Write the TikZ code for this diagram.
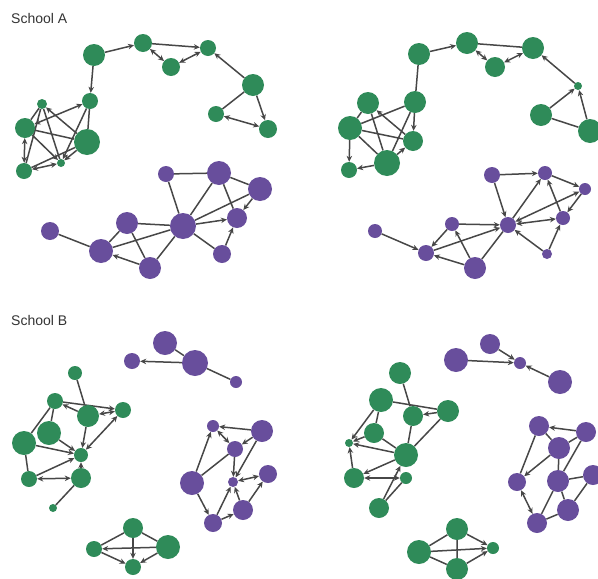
\documentclass[tikz,border=0pt]{standalone}
\usepackage{fontspec}
\setsansfont{Liberation Sans}
\usepackage{tikz}
\usetikzlibrary{arrows.meta,backgrounds}
\definecolor{grn}{RGB}{47,139,89}
\definecolor{prp}{RGB}{104,78,156}

\begin{document}
\begin{tikzpicture}[
    x=1pt, y=-1pt,
    gnode/.style={circle, fill=grn, inner sep=0pt, minimum size=#1},
    pnode/.style={circle, fill=prp, inner sep=0pt, minimum size=#1},
    ttl/.style={anchor=west, inner sep=0pt, font=\sffamily\fontsize{14}{16}\selectfont, text=black!80},
    ln/.style={draw=black!72, line width=1.5pt},
    ar/.style={ln, -{Stealth[length=6pt,width=5.5pt]}},
    br/.style={ln, {Stealth[length=6pt,width=5.5pt]}-{Stealth[length=6pt,width=5.5pt]}}
]
\clip (0,0) rectangle (598,579);

\node[ttl] (schoolA) at (11,18) {School A};
\node[ttl] (schoolB) at (11,320) {School B};

% School A, left
\node[gnode=22pt] (ga1) at (94,55) {};
\node[gnode=18pt] (ga2) at (143,43) {};
\node[gnode=16pt] (ga3) at (208,48) {};
\node[gnode=18pt] (ga4) at (171,67) {};
\node[gnode=22pt] (ga5) at (253,85) {};
\node[gnode=16pt] (ga6) at (216,114) {};
\node[gnode=18pt] (ga7) at (268,129) {};
\node[gnode=16pt] (ga8) at (90,101) {};
\node[gnode=10pt] (ga9) at (42,104) {};
\node[gnode=20pt] (ga10) at (25,128) {};
\node[gnode=26pt] (ga11) at (87,142) {};
\node[gnode=8pt] (ga12) at (61,163) {};
\node[gnode=16pt] (ga13) at (24,171) {};

\node[pnode=16pt] (pa1) at (166,174) {};
\node[pnode=24pt] (pa2) at (219,173) {};
\node[pnode=24pt] (pa3) at (260,189) {};
\node[pnode=20pt] (pa4) at (237,218) {};
\node[pnode=26pt] (pa5) at (183,226) {};
\node[pnode=22pt] (pa6) at (127,223) {};
\node[pnode=18pt] (pa7) at (50,231) {};
\node[pnode=24pt] (pa8) at (101,251) {};
\node[pnode=22pt] (pa9) at (150,268) {};
\node[pnode=18pt] (pa10) at (222,254) {};

% School A, right
\node[gnode=22pt] (gb1) at (419,54) {};
\node[gnode=22pt] (gb2) at (467,43) {};
\node[gnode=22pt] (gb3) at (533,48) {};
\node[gnode=20pt] (gb4) at (495,67) {};
\node[gnode=8pt] (gb5) at (578,86) {};
\node[gnode=22pt] (gb6) at (541,115) {};
\node[gnode=24pt] (gb7) at (590,131) {};
\node[gnode=22pt] (gb8) at (415,102) {};
\node[gnode=22pt] (gb9) at (368,103) {};
\node[gnode=24pt] (gb10) at (350,128) {};
\node[gnode=20pt] (gb11) at (413,141) {};
\node[gnode=26pt] (gb12) at (387,163) {};
\node[gnode=16pt] (gb13) at (349,170) {};

\node[pnode=16pt] (pb1) at (492,175) {};
\node[pnode=14pt] (pb2) at (545,173) {};
\node[pnode=12pt] (pb3) at (585,189) {};
\node[pnode=14pt] (pb4) at (563,218) {};
\node[pnode=16pt] (pb5) at (508,225) {};
\node[pnode=14pt] (pb6) at (452,224) {};
\node[pnode=14pt] (pb7) at (375,231) {};
\node[pnode=16pt] (pb8) at (426,253) {};
\node[pnode=22pt] (pb9) at (475,268) {};
\node[pnode=10pt] (pb10) at (547,254) {};

% School B, left
\node[pnode=24pt] (pc1) at (165,343) {};
\node[pnode=26pt] (pc2) at (195,363) {};
\node[pnode=16pt] (pc3) at (132,361) {};
\node[pnode=12pt] (pc4) at (236,382) {};
\node[pnode=12pt] (pc5) at (213,426) {};
\node[pnode=22pt] (pc6) at (262,431) {};
\node[pnode=16pt] (pc7) at (235,449) {};
\node[pnode=24pt] (pc8) at (192,483) {};
\node[pnode=10pt] (pc9) at (233,482) {};
\node[pnode=18pt] (pc10) at (268,474) {};
\node[pnode=20pt] (pc11) at (243,510) {};
\node[pnode=18pt] (pc12) at (213,523) {};

\node[gnode=14pt] (gc1) at (75,373) {};
\node[gnode=16pt] (gc2) at (55,401) {};
\node[gnode=22pt] (gc3) at (88,416) {};
\node[gnode=16pt] (gc4) at (123,410) {};
\node[gnode=24pt] (gc5) at (49,433) {};
\node[gnode=24pt] (gc6) at (24,443) {};
\node[gnode=14pt] (gc7) at (81,455) {};
\node[gnode=16pt] (gc8) at (29,479) {};
\node[gnode=20pt] (gc9) at (81,478) {};
\node[gnode=8pt] (gc10) at (53,508) {};
\node[gnode=20pt] (gc11) at (133,528) {};
\node[gnode=16pt] (gc12) at (94,549) {};
\node[gnode=24pt] (gc13) at (168,547) {};
\node[gnode=16pt] (gc14) at (133,567) {};

% School B, right
\node[pnode=20pt] (pd1) at (490,344) {};
\node[pnode=24pt] (pd2) at (456,360) {};
\node[pnode=12pt] (pd3) at (520,363) {};
\node[pnode=24pt] (pd4) at (560,382) {};
\node[pnode=20pt] (pd5) at (539,426) {};
\node[pnode=20pt] (pd6) at (586,432) {};
\node[pnode=22pt] (pd7) at (559,448) {};
\node[pnode=18pt] (pd8) at (517,482) {};
\node[pnode=22pt] (pd9) at (558,481) {};
\node[pnode=20pt] (pd10) at (593,475) {};
\node[pnode=22pt] (pd11) at (568,510) {};
\node[pnode=20pt] (pd12) at (537,523) {};

\node[gnode=22pt] (gd1) at (400,373) {};
\node[gnode=24pt] (gd2) at (381,400) {};
\node[gnode=20pt] (gd3) at (413,416) {};
\node[gnode=22pt] (gd4) at (448,411) {};
\node[gnode=20pt] (gd5) at (374,433) {};
\node[gnode=8pt] (gd6) at (349,443) {};
\node[gnode=24pt] (gd7) at (406,455) {};
\node[gnode=20pt] (gd8) at (354,478) {};
\node[gnode=12pt] (gd9) at (406,478) {};
\node[gnode=20pt] (gd10) at (379,508) {};
\node[gnode=22pt] (gd11) at (457,529) {};
\node[gnode=24pt] (gd12) at (419,552) {};
\node[gnode=12pt] (gd13) at (493,548) {};
\node[gnode=22pt] (gd14) at (457,569) {};

\begin{pgfonlayer}{background}
% School A, left
\draw[ar] (ga1) -- (ga2); \draw[ar] (ga2) -- (ga3); \draw[ar] (ga5) -- (ga3);
\draw[ar] (ga1) -- (ga8); \draw[ar] (ga5) -- (ga7); \draw[ar] (ga11) -- (ga9);
\draw[ar] (ga10) -- (ga12); \draw[ar] (ga8) -- (ga12); \draw[ar] (ga11) -- (ga12);
\draw[br] (ga2) -- (ga4); \draw[br] (ga4) -- (ga3); \draw[br] (ga6) -- (ga7);
\draw[br] (ga10) -- (ga8); \draw[br] (ga10) -- (ga13); \draw[br] (ga13) -- (ga12);
\draw[ln] (ga5) -- (ga6) (ga9) -- (ga10) (ga9) -- (ga13) (ga9) -- (ga12)
          (ga10) -- (ga11) (ga8) -- (ga11) (ga13) -- (ga11);
\draw[ln] (pa1) -- (pa2) (pa1) -- (pa5) (pa2) -- (pa5) (pa2) -- (pa3) (pa2) -- (pa4)
          (pa3) -- (pa5) (pa5) -- (pa10) (pa5) -- (pa6) (pa5) -- (pa8) (pa5) -- (pa9)
          (pa6) -- (pa8) (pa6) -- (pa9) (pa7) -- (pa8);
\draw[ar] (pa3) -- (pa4); \draw[ar] (pa5) -- (pa4); \draw[ar] (pa10) -- (pa4);
\draw[ar] (pa9) -- (pa8);
% School A, right
\draw[ar] (gb1) -- (gb2); \draw[ar] (gb6) -- (gb5); \draw[ar] (gb7) -- (gb5);
\draw[ar] (gb5) -- (gb3); \draw[ar] (gb10) -- (gb13); \draw[ar] (gb12) -- (gb13);
\draw[ar] (gb8) -- (gb11); \draw[ar] (gb11) -- (gb9); \draw[ar] (gb12) -- (gb11);
\draw[br] (gb2) -- (gb4); \draw[br] (gb4) -- (gb3);
\draw[ln] (gb2) -- (gb3) (gb6) -- (gb7) (gb1) -- (gb8) (gb9) -- (gb10) (gb8) -- (gb10)
          (gb10) -- (gb11) (gb10) -- (gb12) (gb9) -- (gb12) (gb8) -- (gb12);
\draw[ar] (pb1) -- (pb2); \draw[ar] (pb2) -- (pb3); \draw[ar] (pb1) -- (pb5);
\draw[ar] (pb5) -- (pb2); \draw[ar] (pb4) -- (pb2); \draw[ar] (pb3) -- (pb4);
\draw[ar] (pb10) -- (pb4); \draw[ar] (pb10) -- (pb5); \draw[ar] (pb6) -- (pb5);
\draw[ar] (pb8) -- (pb5); \draw[ar] (pb6) -- (pb8); \draw[ar] (pb9) -- (pb8);
\draw[ar] (pb9) -- (pb6); \draw[ar] (pb7) -- (pb8);
\draw[br] (pb5) -- (pb3); \draw[br] (pb5) -- (pb4);
\draw[ln] (pb9) -- (pb5);
% School B, left
\draw[ln] (pc1) -- (pc2) (pc2) -- (pc4); \draw[ar] (pc2) -- (pc3);
\draw[ar] (pc6) -- (pc5); \draw[ar] (pc6) -- (pc7); \draw[ar] (pc8) -- (pc5);
\draw[ar] (pc7) -- (pc9); \draw[ar] (pc6) -- (pc9); \draw[ar] (pc11) -- (pc10);
\draw[ar] (pc12) -- (pc9); \draw[ar] (pc11) -- (pc9); \draw[ar] (pc8) -- (pc12);
\draw[ar] (pc12) -- (pc11);
\draw[br] (pc5) -- (pc7); \draw[br] (pc10) -- (pc9);
\draw[ln] (pc8) -- (pc7);
\draw[ln] (gc1) -- (gc3) (gc2) -- (gc6) (gc2) -- (gc5) (gc6) -- (gc8) (gc9) -- (gc10);
\draw[ar] (gc3) -- (gc2); \draw[ar] (gc2) -- (gc4); \draw[ar] (gc3) -- (gc7);
\draw[ar] (gc5) -- (gc7); \draw[ar] (gc6) -- (gc7); \draw[ar] (gc9) -- (gc7);
\draw[ar] (gc8) -- (gc7);
\draw[br] (gc3) -- (gc4); \draw[br] (gc4) -- (gc7); \draw[br] (gc8) -- (gc9);
\draw[ln] (gc11) -- (gc12) (gc11) -- (gc13);
\draw[ar] (gc13) -- (gc12); \draw[ar] (gc12) -- (gc14); \draw[ar] (gc13) -- (gc14);
\draw[ar] (gc11) -- (gc14);
% School B, right
\draw[ar] (pd1) -- (pd3); \draw[ar] (pd2) -- (pd3); \draw[ar] (pd4) -- (pd3);
\draw[ar] (pd6) -- (pd5); \draw[ar] (pd7) -- (pd8); \draw[br] (pd8) -- (pd12);
\draw[ln] (pd5) -- (pd7) (pd7) -- (pd6) (pd5) -- (pd8) (pd7) -- (pd9) (pd6) -- (pd9)
          (pd9) -- (pd10) (pd12) -- (pd9) (pd11) -- (pd9) (pd12) -- (pd11) (pd11) -- (pd10);
\draw[ln] (gd1) -- (gd3) (gd2) -- (gd5) (gd3) -- (gd7) (gd4) -- (gd7) (gd5) -- (gd7)
          (gd10) -- (gd9) (gd2) -- (gd4);
\draw[ar] (gd4) -- (gd3); \draw[ar] (gd2) -- (gd6); \draw[ar] (gd5) -- (gd6);
\draw[ar] (gd7) -- (gd6); \draw[ar] (gd8) -- (gd6); \draw[ar] (gd7) -- (gd8);
\draw[ar] (gd10) -- (gd7); \draw[br] (gd8) -- (gd9);
\draw[ln] (gd11) -- (gd12) (gd12) -- (gd14) (gd11) -- (gd14);
\draw[ar] (gd11) -- (gd13); \draw[ar] (gd12) -- (gd13); \draw[ar] (gd14) -- (gd13);
\end{pgfonlayer}
\end{tikzpicture}
\end{document}
